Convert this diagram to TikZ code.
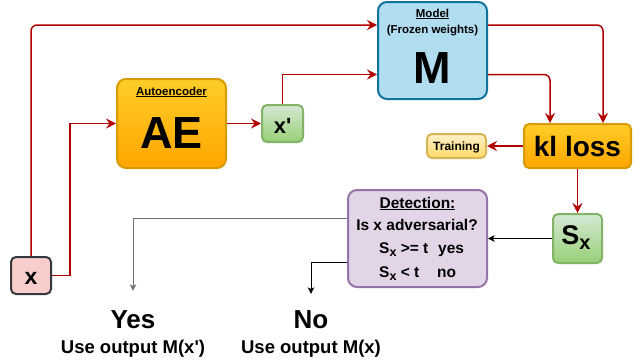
\documentclass[tikz,border=0pt]{standalone}
\usepackage{fontspec}
\setmainfont{Liberation Sans}
\usetikzlibrary{arrows.meta}
\definecolor{wirered}{HTML}{B20000}
\definecolor{orangetop}{HTML}{FFCD28}
\definecolor{orangebot}{HTML}{FFA500}
\definecolor{orangeline}{HTML}{D79B00}
\definecolor{greentop}{HTML}{D5E8D4}
\definecolor{greenbot}{HTML}{97D077}
\definecolor{greenline}{HTML}{82B366}
\definecolor{traintop}{HTML}{FFF2CC}
\definecolor{trainbot}{HTML}{FFD966}
\definecolor{trainline}{HTML}{D6B656}
\definecolor{modelfill}{HTML}{B1DDF0}
\definecolor{modelline}{HTML}{10739E}
\definecolor{detfill}{HTML}{E1D5E7}
\definecolor{detline}{HTML}{9673A6}
\definecolor{xfill}{HTML}{F8CECC}
\definecolor{xline}{HTML}{36393D}
\newcommand{\fsz}[1]{\fontsize{#1}{#1}\selectfont\bfseries}
\newcommand{\subx}[2]{S\raisebox{-#2pt}{\fsz{#1}x}}
\begin{document}
\begin{tikzpicture}[x=1pt,y=-1pt,
    box/.style={rectangle,rounded corners=9pt,line width=2pt,inner sep=0pt},
    smallbox/.style={box,rounded corners=5pt},
    orangebox/.style={draw=orangeline,top color=orangetop,bottom color=orangebot},
    greenbox/.style={smallbox,draw=greenline,top color=greentop,bottom color=greenbot},
    txt/.style={anchor=base,inner sep=0pt},
    wire/.style={draw=wirered,line width=1.5pt,-{Stealth[length=10pt,width=10pt,inset=3.5pt]}},
    pointer/.style={draw=black,line width=1pt,-{Stealth[length=6.5pt,width=6.5pt,inset=1.5pt]}}]
  \useasboundingbox (0,0) rectangle (640,364);%

  \node[smallbox,draw=xline,fill=xfill,minimum width=40pt,minimum height=37pt] (xin) at (31,275.5) {};%
  \node[box,orangebox,minimum width=109pt,minimum height=89pt] (ae) at (171.5,123.5) {};%
  \node[greenbox,minimum width=41pt,minimum height=37pt] (xp) at (282.5,123.5) {};%
  \node[box,draw=modelline,fill=modelfill,minimum width=109pt,minimum height=97pt] (model) at (432.5,50.5) {};%
  \node[smallbox,orangebox,minimum width=107pt,minimum height=44pt] (kl) at (577.5,146) {};%
  \node[smallbox,draw=trainline,top color=traintop,bottom color=trainbot,minimum width=59pt,minimum height=24pt] (train) at (456.5,146) {};%
  \node[greenbox,minimum width=49pt,minimum height=49pt] (sx) at (577.5,238.5) {};%
  \node[box,draw=detline,fill=detfill,minimum width=139pt,minimum height=97pt] (det) at (417.5,238.5) {};%

  \node[txt] (xtext) at (31,284) {\fsz{23}x};%
  \node[txt] (aetitle) at (171.5,95) {\fsz{11.5}\underline{Autoencoder}};%
  \node[txt] (aetext) at (171.5,148) {\fsz{45}AE};%
  \node[txt] (xptext) at (282.5,133) {\fsz{22}x\textquotesingle};%
  \node[txt] (modeltitle) at (432.5,17) {\fsz{11.5}\underline{Model}};%
  \node[txt] (modelnote) at (432.5,34) {\fsz{11.5}(Frozen weights)};%
  \node[txt] (modeltext) at (432.5,83) {\fsz{45}M};%
  \node[txt] (kltext) at (577.5,156) {\fsz{28}kl loss};%
  \node[txt] (traintext) at (456.5,150) {\fsz{12}Training};%
  \node[txt] (sxtext) at (576,244) {\fsz{27}\subx{20}{5}};%
  \node[txt] (dettitle) at (417.5,208) {\fsz{15.5}\underline{Detection:}};%
  \node[txt] (detquery) at (417,230) {\fsz{15.5}Is x adversarial?};%
  \node[txt,anchor=base west] (detyes) at (379,253) {\fsz{15.5}\makebox[59pt][l]{\subx{12.5}{3} >= t}yes};%
  \node[txt,anchor=base west] (detno) at (379,277) {\fsz{15.5}\makebox[58pt][l]{\subx{12.5}{3} < t}no};%
  \node[txt] (yes) at (133,328) {\fsz{26}Yes};%
  \node[txt] (yesnote) at (133,353) {\fsz{18.5}Use output M(x\textquotesingle)};%
  \node[txt] (no) at (311,328) {\fsz{26}No};%
  \node[txt] (nonote) at (311,353) {\fsz{18.5}Use output M(x)};%

  \draw[wire] (xin.east) -- ++(18,0) |- (ae.west);%
  \draw[wire,rounded corners=6pt] (xin.north) |- ([yshift=25.5pt]model.west);%
  \draw[wire] (ae.east) -- (xp.west);%
  \draw[wire] (xp.north) |- ([yshift=-24pt]model.west);%
  \draw[wire,rounded corners=6pt] ([yshift=25.5pt]model.east) -| ([xshift=25.5pt]kl.north);%
  \draw[wire,rounded corners=6pt] ([yshift=-24pt]model.east) -| ([xshift=-27.5pt]kl.north);%
  \draw[wire] (kl.west) -- (train.east);%
  \draw[wire] (kl.south) -- (sx.north);%
  \draw[pointer] (sx.west) -- (det.east);%
  \draw[pointer,draw=black!55] ([yshift=20.5pt]det.west) -| ([yshift=19pt]yes.north);%
  \draw[pointer] ([yshift=-23.5pt]det.west) -| ([yshift=16pt]no.north);%
\end{tikzpicture}
\end{document}
